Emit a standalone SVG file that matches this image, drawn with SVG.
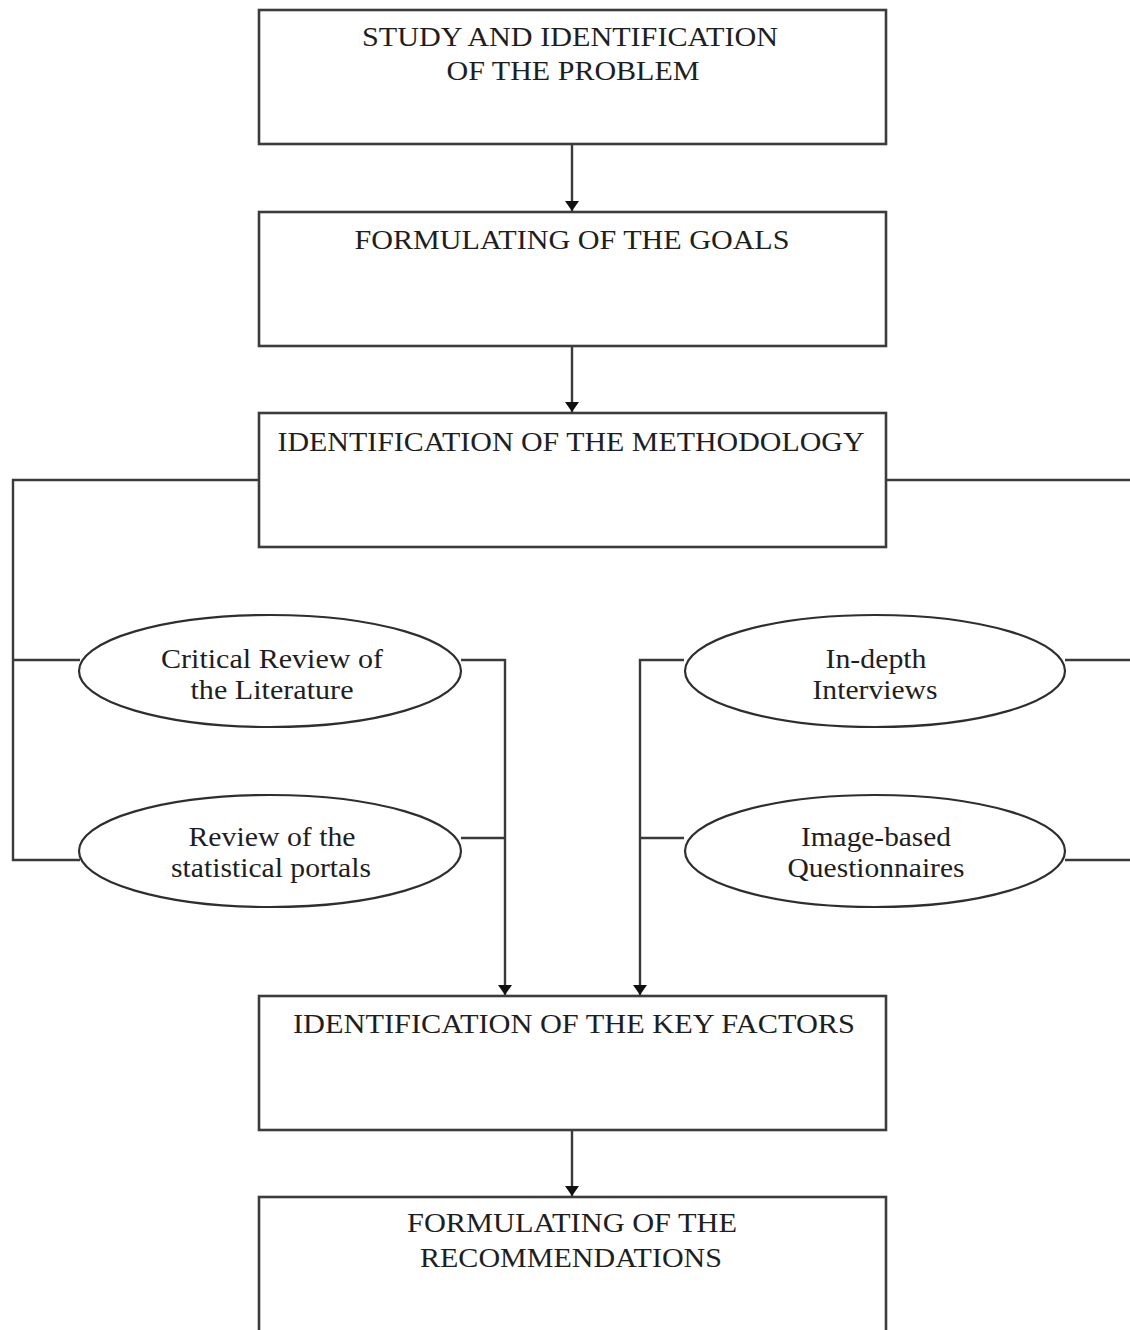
<svg xmlns="http://www.w3.org/2000/svg" width="1130" height="1330" viewBox="0 0 1130 1330">
  <style>
    .box { fill: #ffffff; stroke: #3c3c3c; stroke-width: 2.6; }
    .oval { fill: #ffffff; stroke: #2e2e2e; stroke-width: 2.2; }
    .wire { fill: none; stroke: #3a3a3a; stroke-width: 2.4; }
    .lbl { font-family: "Liberation Serif", "Times New Roman", serif; font-size: 28px; fill: #1e1e1e; text-anchor: middle; }
    .olbl { font-family: "Liberation Serif", "Times New Roman", serif; font-size: 27px; fill: #1e1e1e; text-anchor: middle; }
  </style>
  <defs>
    <marker id="arrow" viewBox="0 0 10 14" refX="10" refY="7" markerWidth="10" markerHeight="14" markerUnits="userSpaceOnUse" orient="auto">
      <path d="M0,0 L10,7 L0,14 Z" fill="#111111"/>
    </marker>
  </defs>
  <rect width="1130" height="1330" fill="#ffffff"/>

  <!-- connectors -->
  <g id="connectors">
    <line class="wire" x1="572" y1="145" x2="572" y2="211" marker-end="url(#arrow)"/>
    <line class="wire" x1="572" y1="347" x2="572" y2="412" marker-end="url(#arrow)"/>
    <line class="wire" x1="572" y1="1131" x2="572" y2="1196" marker-end="url(#arrow)"/>
    <!-- left branch from methodology -->
    <polyline class="wire" points="259,480 13,480 13,860 80,860"/>
    <line class="wire" x1="13" y1="660" x2="80" y2="660"/>
    <!-- right branch from methodology -->
    <line class="wire" x1="886" y1="480" x2="1132" y2="480"/>
    <line class="wire" x1="1065" y1="660" x2="1132" y2="660"/>
    <line class="wire" x1="1065" y1="860" x2="1132" y2="860"/>
    <!-- desk research into key factors -->
    <polyline class="wire" points="461,660 505,660 505,995" marker-end="url(#arrow)"/>
    <line class="wire" x1="461" y1="838" x2="505" y2="838"/>
    <!-- field research into key factors -->
    <polyline class="wire" points="684,660 640,660 640,995" marker-end="url(#arrow)"/>
    <line class="wire" x1="684" y1="838" x2="640" y2="838"/>
  </g>

  <g id="problem">
    <rect class="box" x="259" y="10" width="627" height="134"/>
    <text class="lbl" x="570" y="46" textLength="416" lengthAdjust="spacingAndGlyphs">STUDY AND IDENTIFICATION</text>
    <text class="lbl" x="573" y="80" textLength="253" lengthAdjust="spacingAndGlyphs">OF THE PROBLEM</text>
  </g>

  <g id="goals">
    <rect class="box" x="259" y="212" width="627" height="134"/>
    <text class="lbl" x="572" y="249" textLength="435" lengthAdjust="spacingAndGlyphs">FORMULATING OF THE GOALS</text>
  </g>

  <g id="methodology">
    <rect class="box" x="259" y="413" width="627" height="134"/>
    <text class="lbl" x="571" y="451" textLength="587" lengthAdjust="spacingAndGlyphs">IDENTIFICATION OF THE METHODOLOGY</text>
  </g>

  <g id="literature">
    <ellipse class="oval" cx="270" cy="671" rx="191" ry="56"/>
    <text class="olbl" x="272" y="668" textLength="222" lengthAdjust="spacingAndGlyphs">Critical Review of</text>
    <text class="olbl" x="272" y="699" textLength="163" lengthAdjust="spacingAndGlyphs">the Literature</text>
  </g>

  <g id="portals">
    <ellipse class="oval" cx="270" cy="851" rx="191" ry="56"/>
    <text class="olbl" x="272" y="846" textLength="167" lengthAdjust="spacingAndGlyphs">Review of the</text>
    <text class="olbl" x="271" y="877" textLength="200" lengthAdjust="spacingAndGlyphs">statistical portals</text>
  </g>

  <g id="interviews">
    <ellipse class="oval" cx="875" cy="671" rx="190" ry="56"/>
    <text class="olbl" x="876" y="668" textLength="101" lengthAdjust="spacingAndGlyphs">In-depth</text>
    <text class="olbl" x="875" y="699" textLength="125" lengthAdjust="spacingAndGlyphs">Interviews</text>
  </g>

  <g id="questionnaires">
    <ellipse class="oval" cx="875" cy="851" rx="190" ry="56"/>
    <text class="olbl" x="876" y="846" textLength="150" lengthAdjust="spacingAndGlyphs">Image-based</text>
    <text class="olbl" x="876" y="877" textLength="177" lengthAdjust="spacingAndGlyphs">Questionnaires</text>
  </g>

  <g id="key-factors">
    <rect class="box" x="259" y="996" width="627" height="134"/>
    <text class="lbl" x="574" y="1033" textLength="562" lengthAdjust="spacingAndGlyphs">IDENTIFICATION OF THE KEY FACTORS</text>
  </g>

  <g id="recommendations">
    <rect class="box" x="259" y="1197" width="627" height="140"/>
    <text class="lbl" x="572" y="1232" textLength="330" lengthAdjust="spacingAndGlyphs">FORMULATING OF THE</text>
    <text class="lbl" x="571" y="1267" textLength="302" lengthAdjust="spacingAndGlyphs">RECOMMENDATIONS</text>
  </g>
</svg>
